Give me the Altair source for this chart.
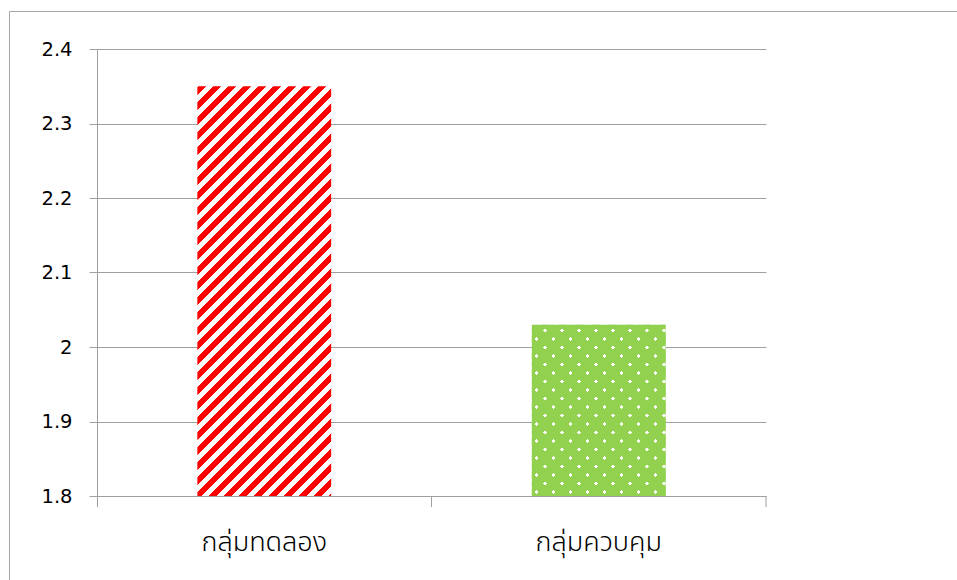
import math
import altair as alt
import pandas as pd

# ---- data ----
categories = ["กลุ่มทดลอง", "กลุ่มควบคุม"]
values = [2.35, 2.03]
y_min, y_max = 1.8, 2.4
y_ticks = [1.8, 1.9, 2.0, 2.1, 2.2, 2.3, 2.4]

# ---- layout (style only) ----
PLOT_W, PLOT_H = 669, 447
PAD = {"left": 97, "top": 49, "right": 191, "bottom": 84}
BAR_FRAC = 0.4
GRID = "#a0a0a0"
RED = "#ff0000"
GREEN = "#92d050"

df = pd.DataFrame({"cat": categories, "val": values})

step = PLOT_W / len(categories)
bar_w = BAR_FRAC * step


def bar_h(v):
    return (v - y_min) / (y_max - y_min) * PLOT_H


def stripe_stops(total, period, phase, width, c_on, c_off):
    """Hard-edged stops along u in [0,total]; c_on where (u-phase) mod period < width."""
    pts = set([0.0, total])
    k = math.floor((0 - phase) / period) - 1
    while phase + k * period < total + period:
        a = phase + k * period
        for p in (a, a + width):
            if 0 < p < total:
                pts.add(p)
        k += 1
    pts = sorted(pts)
    stops = []
    for a, b in zip(pts[:-1], pts[1:]):
        mid = (a + b) / 2
        col = c_on if ((mid - phase) % period) < width else c_off
        stops.append(alt.GradientStop(color=col, offset=a / total))
        stops.append(alt.GradientStop(color=col, offset=b / total))
    return stops


def diag_gradient(W, H, kind, stops):
    s = (W * W + H * H) / (W + H)
    dx, dy = W / s, H / s
    if kind == "sum":   # isolines X + Y = const  ("/" stripes)
        return alt.LinearGradient(gradient="linear", x1=0, y1=0, x2=dx, y2=dy, stops=stops)
    # isolines X - Y = const  ("\" stripes)
    return alt.LinearGradient(gradient="linear", x1=0, y1=1, x2=dx, y2=1 - dy, stops=stops)


W = bar_w
H1 = bar_h(values[0])
H2 = bar_h(values[1])

# red diagonal stripes for bar 1
red_grad = diag_gradient(W, H1, "sum", stripe_stops(W + H1, 15, 1.0, 7.8, RED, "#ffffff"))

# white dots for bar 2: white base, two crossing green layers with thin transparent bands
CLEAR = "rgba(146,208,80,0)"
dot_w = 3.6
g_sum = diag_gradient(W, H2, "sum",
                      stripe_stops(W + H2, 17, 2.0 - dot_w / 2, dot_w, CLEAR, GREEN))
# diff coordinate u = X - Y + H ; dots at X - Y ≡ 7 (mod 17)
g_diff = diag_gradient(W, H2, "diff",
                       stripe_stops(W + H2, 17, (7.0 + H2) % 17 - dot_w / 2, dot_w, CLEAR, GREEN))

THAI_FONT = "Noto Sans Thai, Noto Sans Thai UI, Loma, Garuda, Sarabun, Leelawadee UI, Tahoma, sans-serif"

x_enc = alt.X("cat:N", sort=categories,
              scale=alt.Scale(paddingInner=0, paddingOuter=0),
              axis=alt.Axis(title=None, ticks=False, domain=False, grid=False,
                            labelAngle=0, labelFontSize=27, labelColor="#000000",
                            labelFont=THAI_FONT, labelFontWeight=300,
                            labelPadding=33))
y_enc = alt.Y("val:Q",
              scale=alt.Scale(domain=[y_min, y_max], nice=False, zero=False),
              axis=alt.Axis(title=None, values=y_ticks, format=".2~f",
                            grid=True, gridColor=GRID, gridWidth=1,
                            domain=True, domainColor=GRID, domainWidth=1,
                            ticks=True, tickColor=GRID, tickSize=8, tickWidth=1,
                            labelFontSize=19.5, labelColor="#000000", labelFont="DejaVu Sans",
                            labelPadding=17))

base = alt.Chart(df).encode(x=x_enc, y=y_enc, y2=alt.datum(y_min))
bw = alt.RelativeBandSize(BAR_FRAC)

bar1 = base.transform_filter(alt.datum.cat == categories[0]).mark_bar(width=bw, color=red_grad)
bar2_base = base.transform_filter(alt.datum.cat == categories[1]).mark_bar(width=bw, color="#ffffff")
bar2_a = base.transform_filter(alt.datum.cat == categories[1]).mark_bar(width=bw, color=g_sum)
bar2_b = base.transform_filter(alt.datum.cat == categories[1]).mark_bar(width=bw, color=g_diff)

one = pd.DataFrame({"k": [0]})
x_ticks = [
    alt.Chart(one).mark_rule(color=GRID, strokeWidth=1).encode(
        x=alt.value(px), y=alt.value(PLOT_H), y2=alt.value(PLOT_H + 11))
    for px in (0.5, step, PLOT_W)
]
border = alt.Chart(one).mark_rect(fill="transparent", stroke="#a6a6a6", strokeWidth=1).encode(
    x=alt.value(9 - PAD["left"] + 0.5), y=alt.value(11 - PAD["top"] + 0.5),
    x2=alt.value(PLOT_W + PAD["right"] + 20), y2=alt.value(PLOT_H + PAD["bottom"] + 20))

chart = alt.layer(border, bar1, bar2_base, bar2_a, bar2_b, *x_ticks).properties(
    width=PLOT_W, height=PLOT_H,
    autosize=alt.AutoSizeParams(type="none"),
    padding=PAD,
    background="#ffffff",
).configure_view(stroke=None)

chart.save("out.html", embed_options={"renderer": "svg", "actions": False})
